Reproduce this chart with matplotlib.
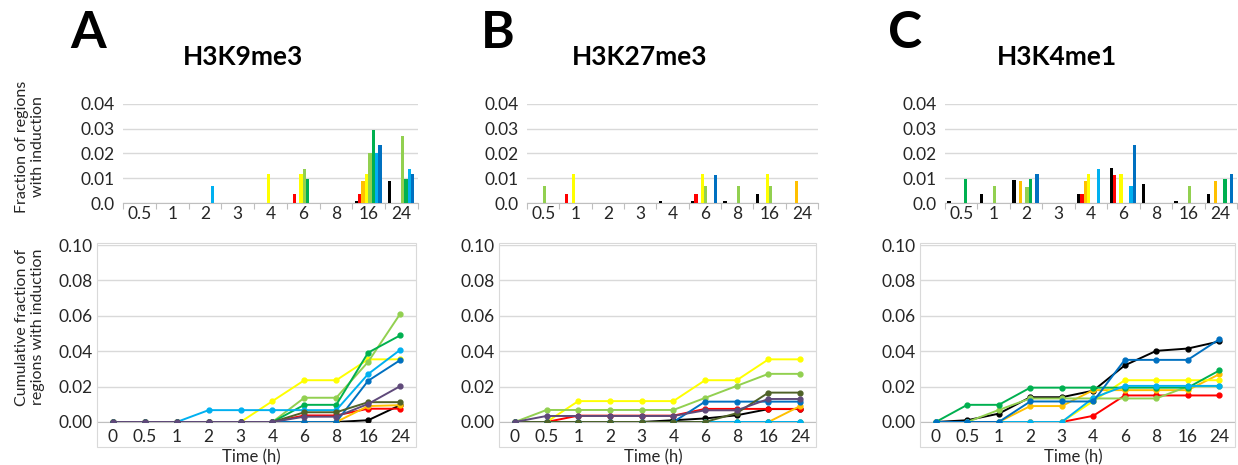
import matplotlib
matplotlib.use('Agg')
import matplotlib.pyplot as plt
from matplotlib.patches import Rectangle
import numpy as np

# time points
times = ['0', '0.5', '1', '2', '3', '4', '6', '8', '16', '24']
bar_times = times[1:]

names = ['black', 'red', 'orange', 'yellow', 'lgreen', 'green', 'lblue', 'blue', 'olive', 'purple']
colors = ['#000000', '#FF0000', '#FFC000', '#FFFF00', '#92D050', '#00B050',
          '#00B0F0', '#0070C0', '#4F6228', '#5F497A']

# fraction of regions with induction (bars), order: black..blue
k9_bars = [
    [0, 0, 0, 0, 0, 0, 0, 0.001, 0.009],            # black
    [0, 0, 0, 0, 0, 0.0037, 0, 0.0037, 0],          # red
    [0, 0, 0, 0, 0, 0, 0, 0.009, 0],                # orange
    [0, 0, 0, 0, 0.0118, 0.0118, 0, 0.0118, 0],     # yellow
    [0, 0, 0, 0, 0, 0.0137, 0, 0.0204, 0.027],      # light green
    [0, 0, 0, 0, 0, 0.0097, 0, 0.0295, 0.0097],     # green
    [0, 0, 0.0067, 0, 0, 0, 0, 0.0204, 0.0136],     # light blue
    [0, 0, 0, 0, 0, 0, 0, 0.0233, 0.0116],          # blue
]
k27_bars = [
    [0, 0, 0, 0, 0.001, 0.001, 0.001, 0.0035, 0],
    [0, 0.0036, 0, 0, 0, 0.0036, 0, 0, 0],
    [0, 0, 0, 0, 0, 0, 0, 0, 0.009],
    [0, 0.0118, 0, 0, 0, 0.0118, 0, 0.0118, 0],
    [0.0068, 0, 0, 0, 0, 0.0068, 0.0068, 0.0068, 0],
    [0, 0, 0, 0, 0, 0, 0, 0, 0],
    [0, 0, 0, 0, 0, 0, 0, 0, 0],
    [0, 0, 0, 0, 0, 0.0115, 0, 0, 0],
]
k4_bars = [
    [0.001, 0.0037, 0.0092, 0, 0.0035, 0.0141, 0.0075, 0.001, 0.0035],
    [0, 0, 0, 0, 0.0035, 0.0115, 0, 0, 0],
    [0, 0, 0.009, 0, 0.009, 0, 0, 0, 0.009],
    [0, 0, 0, 0, 0.0118, 0.0118, 0, 0, 0],
    [0, 0.0068, 0.0065, 0, 0, 0, 0, 0.0068, 0],
    [0.0097, 0, 0.0097, 0, 0, 0, 0, 0, 0.0097],
    [0, 0, 0, 0, 0.0136, 0.0068, 0, 0, 0],
    [0, 0, 0.0116, 0, 0, 0.0235, 0, 0, 0.0116],
]

# cumulative fraction (lines), order: black..blue, olive, purple
k9_lines = [
    [0, 0, 0, 0, 0, 0, 0, 0, 0.001, 0.0095],
    [0, 0, 0, 0, 0, 0, 0.0037, 0.0037, 0.0075, 0.0075],
    [0, 0, 0, 0, 0, 0, 0, 0, 0.009, 0.0095],
    [0, 0, 0, 0, 0, 0.0118, 0.0236, 0.0236, 0.0354, 0.0354],
    [0, 0, 0, 0, 0, 0, 0.0137, 0.0137, 0.034, 0.061],
    [0, 0, 0, 0, 0, 0, 0.0097, 0.0097, 0.0392, 0.0489],
    [0, 0, 0, 0.0067, 0.0067, 0.0067, 0.0067, 0.0067, 0.0271, 0.0407],
    [0, 0, 0, 0, 0, 0, 0, 0, 0.0233, 0.0349],
    [0, 0, 0, 0, 0, 0, 0.0055, 0.0055, 0.0112, 0.0112],
    [0, 0, 0, 0, 0, 0, 0.003, 0.003, 0.0102, 0.0202],
]
k27_lines = [
    [0, 0, 0, 0, 0, 0.001, 0.002, 0.0038, 0.0073, 0.0073],
    [0, 0, 0.0036, 0.0036, 0.0036, 0.0036, 0.0074, 0.0074, 0.0074, 0.0074],
    [0, 0, 0, 0, 0, 0, 0, 0, 0, 0.009],
    [0, 0, 0.0118, 0.0118, 0.0118, 0.0118, 0.0236, 0.0236, 0.0354, 0.0354],
    [0, 0.0068, 0.0068, 0.0068, 0.0068, 0.0068, 0.0136, 0.0204, 0.0272, 0.0272],
    [0, 0, 0, 0, 0, 0, 0, 0, 0, 0],
    [0, 0, 0, 0, 0, 0, 0, 0, 0, 0],
    [0, 0, 0, 0, 0, 0, 0.0115, 0.0115, 0.0115, 0.0115],
    [0, 0, 0, 0, 0, 0, 0, 0.005, 0.0166, 0.0166],
    [0, 0.0034, 0.0034, 0.0034, 0.0034, 0.0034, 0.0066, 0.0066, 0.013, 0.013],
]
k4_lines = [
    [0, 0.001, 0.0047, 0.014, 0.014, 0.0177, 0.032, 0.0402, 0.0415, 0.0455],
    [0, 0, 0, 0, 0, 0.0035, 0.015, 0.015, 0.015, 0.015],
    [0, 0, 0, 0.009, 0.009, 0.018, 0.018, 0.018, 0.018, 0.027],
    [0, 0, 0, 0, 0, 0.0118, 0.0236, 0.0236, 0.0236, 0.0236],
    [0, 0, 0.0068, 0.0133, 0.0133, 0.0133, 0.0133, 0.0133, 0.0201, 0.0201],
    [0, 0.0097, 0.0097, 0.0194, 0.0194, 0.0194, 0.0194, 0.0194, 0.0194, 0.0291],
    [0, 0, 0, 0, 0, 0.0136, 0.0204, 0.0204, 0.0204, 0.0204],
    [0, 0, 0, 0.0116, 0.0116, 0.0116, 0.0351, 0.0351, 0.0351, 0.0467],
]

W, H = 1238, 465
plt.rcParams['font.family'] = ['Lato', 'DejaVu Sans']
grid_c = '#d9d9d9'
axis_c = '#bfbfbf'
txt_c = '#262626'
tick_fs = 12.5


def rect(x0, y0, x1, y1):
    return [x0 / W, 1 - y1 / H, (x1 - x0) / W, (y1 - y0) / H]


fig = plt.figure(figsize=(W / 100, H / 100), dpi=100)

panels = [
    ('A', 'H3K9me3', k9_bars, k9_lines, (123, 418), (97, 416), 88, 243, 251),
    ('B', 'H3K27me3', k27_bars, k27_lines, (527, 818), (499, 816), 498, 640, 653),
    ('C', 'H3K4me1', k4_bars, k4_lines, (945, 1237), (920, 1235), 905, 1057, 1073),
]

for letter, title, bars, lines, bx, lx, letter_x, title_x, xlab_x in panels:
    # top bar chart
    ax = fig.add_axes(rect(bx[0], 104, bx[1], 203))
    n = len(bars)
    w = 0.102
    for i in range(n):
        xs = np.arange(len(bar_times)) + 0.5 + (i - (n - 1) / 2) * w - 0.02
        ax.bar(xs, bars[i], width=w, color=colors[i], linewidth=0, zorder=3)
    ax.set_xlim(0, len(bar_times))
    ax.set_ylim(0, 0.04)
    ax.set_yticks([0, 0.01, 0.02, 0.03, 0.04])
    ax.set_yticklabels(['0.0', '0.01', '0.02', '0.03', '0.04'])
    ax.set_xticks(np.arange(len(bar_times) + 1))
    ax.set_xticklabels([])
    ax.set_xticks(np.arange(len(bar_times)) + 0.5, minor=True)
    ax.set_xticklabels(bar_times, minor=True)
    ax.tick_params(axis='x', which='major', length=4, color=axis_c, direction='out')
    ax.tick_params(axis='x', which='minor', length=0, pad=2, labelsize=tick_fs, labelcolor=txt_c)
    ax.tick_params(axis='y', length=0, pad=6, labelsize=tick_fs, labelcolor=txt_c)
    ax.grid(axis='y', color=grid_c, linewidth=1, zorder=0)
    for s in ['left', 'top', 'right']:
        ax.spines[s].set_visible(False)
    ax.spines['bottom'].set_color(axis_c)
    ax.set_axisbelow(True)

    # bottom cumulative line chart
    ax2 = fig.add_axes(rect(lx[0], 245, lx[1], 422))
    for i in range(len(lines)):
        ax2.plot(range(len(times)), lines[i], '-o', color=colors[i], linewidth=1.4,
                 markersize=3.5, zorder=3)
    ax2.set_xlim(-0.5, len(times) - 0.5)
    ax2.set_ylim(0, 0.10)
    ax2.set_yticks([0, 0.02, 0.04, 0.06, 0.08, 0.10])
    ax2.set_yticklabels(['0.00', '0.02', '0.04', '0.06', '0.08', '0.10'])
    ax2.set_xticks(range(len(times)))
    ax2.set_xticklabels(times)
    ax2.tick_params(axis='x', length=0, pad=5, labelsize=tick_fs, labelcolor=txt_c)
    ax2.tick_params(axis='y', length=0, pad=3, labelsize=tick_fs, labelcolor=txt_c)
    ax2.grid(axis='y', color=grid_c, linewidth=1, zorder=0)
    for s in ['left', 'top', 'right']:
        ax2.spines[s].set_visible(False)
    ax2.spines['bottom'].set_color(axis_c)
    ax2.set_axisbelow(True)
    fig.add_artist(Rectangle((lx[0] / W, 1 - 447 / H), (lx[1] - lx[0]) / W, (447 - 243) / H,
                             transform=fig.transFigure, fill=False, edgecolor=grid_c, linewidth=0.8))
    fig.text(xlab_x / W, 1 - 457 / H, 'Time (h)', ha='center', va='center', fontsize=12, color=txt_c)

    fig.text(letter_x / W, 1 - 34 / H, letter, ha='center', va='center', fontsize=37, fontweight='bold')
    fig.text(title_x / W, 1 - 57 / H, title, ha='center', va='center', fontsize=19, fontweight='bold')

fig.text(30 / W, 1 - 147 / H, 'Fraction of regions\nwith induction', rotation=90, ha='center',
         va='center', fontsize=11.5, color=txt_c, multialignment='center', linespacing=1.2)
fig.text(30 / W, 1 - 327 / H, 'Cumulative fraction of\nregions with induction', rotation=90,
         ha='center', va='center', fontsize=11.5, color=txt_c, multialignment='center', linespacing=1.2)

fig.savefig('out.png', dpi=100)
